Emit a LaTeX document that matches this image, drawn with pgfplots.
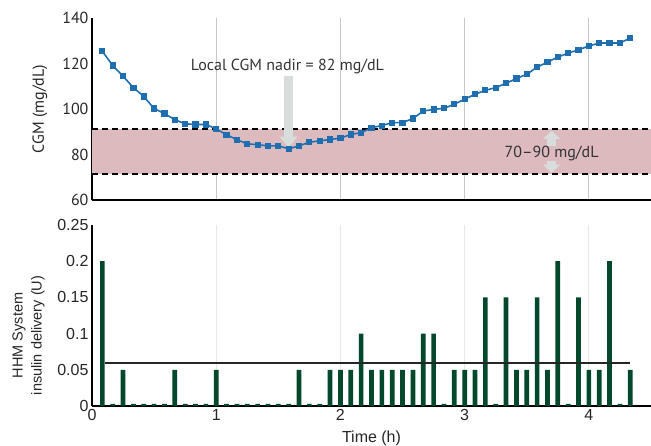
\documentclass[border=0pt]{standalone}
\usepackage{pgfplots}
\pgfplotsset{compat=1.18}
\usepackage{pgfplotstable}
\usepackage{fontspec}
\setmainfont{Liberation Sans}
\newfontfamily\myriad[Ligatures=TeX]{PT Sans}
\usetikzlibrary{arrows.meta}
\definecolor{cgmblue}{RGB}{31,111,176}
\definecolor{band}{RGB}{220,186,190}
\definecolor{bargreen}{RGB}{3,72,42}
\definecolor{arrowgray}{RGB}{216,221,219}

\pgfplotstableread{
min cgm
5 125.4
10 119.1
15 114.4
20 109.4
25 105.5
30 100.2
35 98.0
40 95.3
45 93.5
50 93.2
55 93.2
60 91.2
65 88.7
70 86.5
75 84.7
80 84.3
85 83.8
90 83.8
95 82.5
100 83.8
105 85.4
110 86.0
115 86.6
120 87.2
125 88.8
130 89.6
135 91.8
140 92.7
145 94.0
150 94.0
155 95.8
160 99.1
165 99.8
170 100.3
175 102.1
180 104.3
185 106.5
190 108.2
195 109.4
200 111.3
205 113.4
210 115.3
215 118.4
220 120.6
225 122.8
230 124.6
235 126.0
240 127.7
245 129.0
250 129.0
255 129.0
260 131.2
}\cgmtable

\pgfplotstableread{
min ins
5 0.2
10 0.003
15 0.05
20 0.003
25 0.003
30 0.003
35 0.003
40 0.05
45 0.003
50 0.003
55 0.003
60 0.05
65 0.003
70 0.003
75 0.003
80 0.003
85 0.003
90 0.003
95 0.003
100 0.05
105 0.003
110 0.003
115 0.05
120 0.05
125 0.05
130 0.1
135 0.05
140 0.05
145 0.05
150 0.05
155 0.05
160 0.1
165 0.1
170 0.003
175 0.05
180 0.05
185 0.05
190 0.15
195 0.003
200 0.15
205 0.05
210 0.05
215 0.15
220 0.05
225 0.2
230 0.003
235 0.15
240 0.05
245 0.05
250 0.2
255 0.003
260 0.05
}\instable

\begin{document}
\begin{tikzpicture}[x=1pt,y=1pt]
\pgfplotsset{
  common/.style={
    scale only axis, width=559pt,
    xmin=0, xmax=270,
    xtick={0,60,120,180,240},
    axis lines*=left,
    axis line style={line width=2pt, black, -},
    major tick length=0pt,
    xmajorgrids,
    clip=false,
    /pgf/number format/assume math mode=true,
  }
}
% ---------- top panel ----------
\begin{axis}[common,
  at={(0pt,206pt)}, anchor=south west, height=182pt,
  ymin=60, ymax=140, ytick={60,80,100,120,140},
  xticklabels={},
  grid style={color=black!22, line width=0.8pt},
  yticklabel style={font=\myriad\fontsize{16}{16}\selectfont, text=black!85},
  ylabel={CGM (mg/dL)},
  every axis y label/.style={at={(axis description cs:-0.093,0.5)}, rotate=90, anchor=center, font=\myriad\fontsize{16}{18}\selectfont, text=black!85},
]
\fill[band] (axis cs:0,71.3) rectangle (axis cs:270,91.2);
\draw[black, line width=1.6pt, dash pattern=on 6pt off 4pt] (axis cs:0,91.2) -- (axis cs:270,91.2);
\draw[black, line width=1.6pt, dash pattern=on 6pt off 4pt] (axis cs:0,71.3) -- (axis cs:270,71.3);
\draw[arrowgray, line width=9.5pt, -{Triangle[width=17pt,length=11pt]}] (axis cs:95,114.3) -- (axis cs:95,83.0);
\draw[arrowgray, line width=9pt, -{Triangle[width=17pt,length=8pt]}] (axis cs:222,82) -- (axis cs:222,90.4);
\draw[arrowgray, line width=9pt, -{Triangle[width=17pt,length=8pt]}] (axis cs:222,79) -- (axis cs:222,72.0);
\node[font=\myriad\fontsize{16}{16}\selectfont, text=black!80, fill=band, inner sep=0.5pt] at (axis cs:222,80.4) {70–90 mg/dL};
\node[font=\myriad\fontsize{16}{16}\selectfont, text=black!80] at (axis cs:94.4,118.6) {Local CGM nadir = 82 mg/dL};
\addplot[cgmblue, line width=1.6pt, mark=square*, mark size=2.6pt, mark options={solid, fill=cgmblue, draw=cgmblue, line width=0pt}] table[x=min, y=cgm] {\cgmtable};
\end{axis}
% ---------- bottom panel ----------
\begin{axis}[common,
  at={(0pt,0pt)}, anchor=south west, height=181pt,
  ymin=0, ymax=0.25, ytick={0,0.05,0.1,0.15,0.2,0.25},
  yticklabels={0,0.05,0.1,0.15,0.2,0.25},
  xticklabels={0,1,2,3,4},
  grid style={color=black!9, line width=0.8pt},
  ticklabel style={font=\fontsize{16}{16}\selectfont, text=black!85},
  ylabel={HHM System\\insulin delivery (U)},
  every axis y label/.style={at={(axis description cs:-0.1136,0.39)}, rotate=90, anchor=center, font=\fontsize{14.5}{19}\selectfont, align=center, text=black!85},
  xlabel={Time (h)},
  every axis x label/.style={at={(axis description cs:0.5,0)}, yshift=-32pt, anchor=center, font=\fontsize{16}{16}\selectfont, text=black!85},
]
\addplot[ybar, bar width=4.7pt, bar shift=0pt, fill=bargreen, draw=none] table[x=min, y=ins] {\instable};
\addplot[black!85, line width=1.6pt] coordinates {(6.3,0.059) (260,0.059)};
\end{axis}
\pgfresetboundingbox
\useasboundingbox (-92pt,-40pt) rectangle (559pt,406pt);
\end{tikzpicture}
\end{document}
